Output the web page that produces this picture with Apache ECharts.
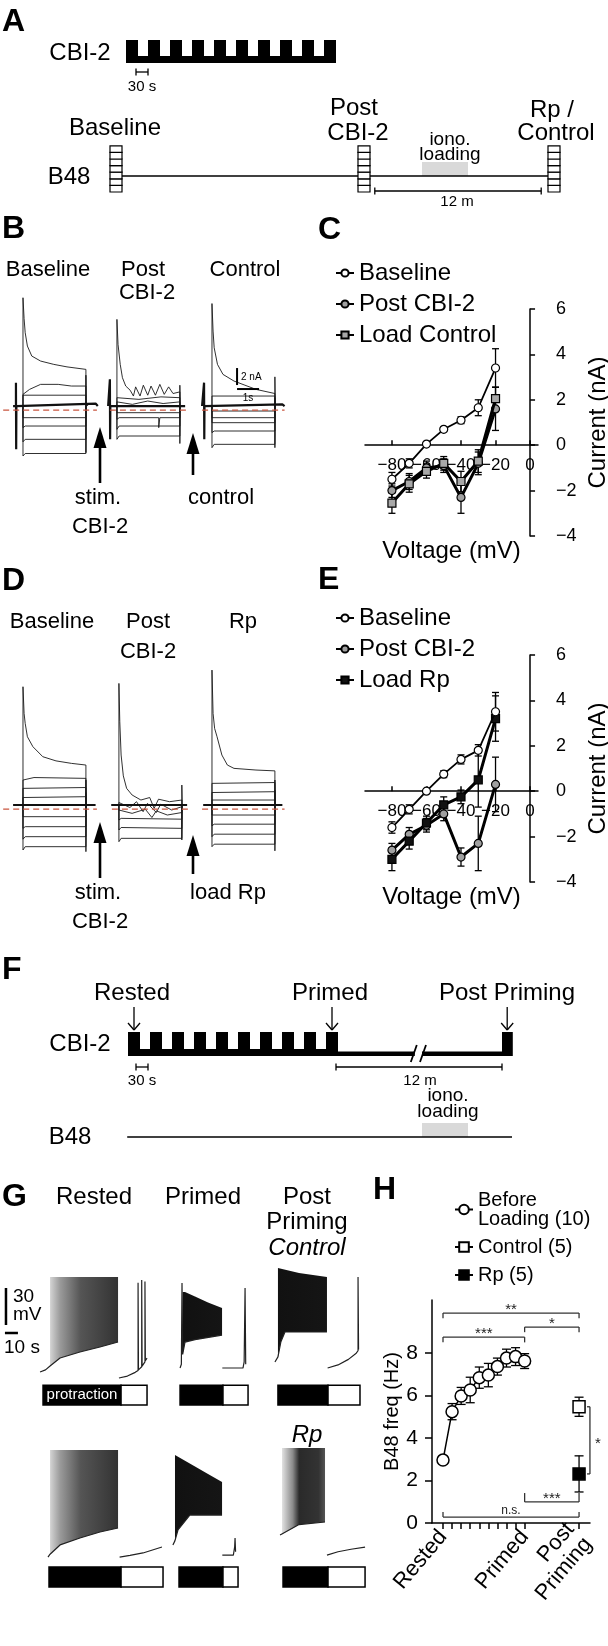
<!DOCTYPE html>
<html>
<head>
<meta charset="utf-8">
<title>CBI-2 priming and B48</title>
<script src="https://cdn.jsdelivr.net/npm/echarts@6/dist/echarts.min.js"></script>
<style>
  html, body { margin: 0; padding: 0; background: #fff; }
  #chart { width: 608px; height: 1646px; }
</style>
</head>
<body>
<div id="chart"></div>
<script>
const FONT = '"Liberation Sans", Arial, Helvetica, sans-serif';

// ---- A / F protocol diagrams (time in s) ----
const cbiPulses = [[0, 30], [55, 85], [110, 140], [165, 195], [220, 250], [275, 305], [330, 360], [385, 415], [440, 470], [495, 525]];
const aB48Samples = [-25, 595, 1070];
const aIonoLoading = [740, 855];
const aB48Line = [-15, 1060];
const aTimeBars = [[25, 55], [622, 1038]];
const fLastPulse = [935, 962];
const fBreak = [707, 745];
const fArrowTimes = [15, 510, 948];
const fIonoLoading = [735, 850];
const fB48Line = [-2, 960];
const fTimeBars = [[20, 50], [520, 935]];

// ---- B / D current traces: [s from step onset, nA from holding] ----
const bOnsets = [0, 4.27, 8.59];
const bBaselineTraces = [
  [[0, 0], [0, 13.0], [0.05, 10.5], [0.1, 8.8], [0.2, 7.2], [0.4, 6.0], [0.8, 5.4], [1.4, 5.0], [2.0, 4.7], [2.86, 4.4], [2.86, -5.6], [2.88, 0.3], [2.95, 0]],
  [[0, 0], [0, 1.4], [0.3, 2.0], [0.8, 2.6], [1.6, 2.6], [2.2, 2.4], [2.86, 2.4], [2.86, 0]],
  [[0, 0], [0, 1.3], [2.86, 1.3], [2.86, 0]],
  [[0, 0], [0, -1.4], [2.86, -1.4], [2.86, 0]],
  [[0, 0], [0, -2.6], [0.1, -2.4], [2.86, -2.4], [2.86, 0]],
  [[0, 0], [0, -4.3], [0.1, -4.0], [2.86, -4.0], [2.86, 0]],
  [[0, 0], [0, -6.0], [0.1, -5.7], [2.86, -5.7], [2.86, 3.7], [2.88, 0]]
];
const bPostTraces = [
  [[0, 0], [0, 10.4], [0.05, 7.4], [0.15, 5.0], [0.25, 3.4], [0.4, 2.4], [0.6, 1.9], [0.75, 1.2], [0.85, 2.3], [1.05, 1.2], [1.2, 2.5], [1.4, 1.3], [1.55, 2.4], [1.75, 1.3], [1.95, 2.6], [2.15, 1.4], [2.35, 2.3], [2.55, 1.5], [2.86, 1.7], [2.86, -4.5], [2.88, 0]],
  [[0, 0], [0, 1.0], [1.0, 0.8], [2.0, 1.1], [2.86, 1.0], [2.86, 0]],
  [[0, 0], [0, 0.5], [0.7, 0.2], [1.4, 0.6], [2.1, 0.3], [2.86, 0.5], [2.86, 0]],
  [[0, 0], [0, -0.8], [2.86, -0.8], [2.86, 0]],
  [[0, 0], [0, -1.6], [0.1, -1.4], [1.9, -1.4], [1.9, -2.6], [1.95, -1.4], [2.86, -1.4], [2.86, 0]],
  [[0, 0], [0, -2.8], [0.1, -2.4], [2.86, -2.4], [2.86, 0]],
  [[0, 0], [0, -4.0], [0.1, -3.6], [2.86, -3.6], [2.86, 2.5], [2.88, 0]]
];
const bControlTraces = [
  [[0, 0], [0, 12.3], [0.05, 9.0], [0.1, 7.0], [0.25, 5.0], [0.5, 3.8], [1.0, 3.0], [1.5, 2.5], [2.0, 2.0], [2.86, 1.5], [2.86, -5.0], [2.88, 0]],
  [[0, 0], [0, 1.2], [2.86, 1.2], [2.86, 0]],
  [[0, 0], [0, -0.6], [2.86, -0.6], [2.86, 0]],
  [[0, 0], [0, -1.4], [2.86, -1.4], [2.86, 0]],
  [[0, 0], [0, -2.0], [2.86, -2.0], [2.86, 0]],
  [[0, 0], [0, -3.2], [0.1, -3.0], [2.86, -3.0], [2.86, 1.0], [2.88, 0]],
  [[0, 0], [0, -5.0], [0.1, -4.6], [2.86, -4.6], [2.86, 3.5], [2.88, 0]]
];
const bHolds = [
  [[-0.45, 0], [-0.32, 0], [-0.32, 2.8], [-0.31, -5.2], [-0.3, 0], [3.3, 0.3], [3.4, 0]],
  [[-0.4, 0], [-0.32, 0], [-0.32, 3.2], [-0.31, -4.0], [-0.3, 0], [3.1, 0]],
  [[-0.45, 0], [-0.36, 0], [-0.36, 2.8], [-0.35, -4.0], [-0.34, 0], [3.2, 0.2], [3.3, 0]]
];
const bRedDash = [[-0.9, 3.36], [-0.32, 3.2], [-0.45, 3.3]];
const bScale = { nA: [4.56, 2.52], s: [9.73, 10.73], at: 9.73, sy: 2.04 };

const dOnsets = [0, 4.36, 8.59];
const dBaselineTraces = [
  [[0, 0], [0, 14.2], [0.05, 11.0], [0.1, 9.8], [0.2, 8.2], [0.45, 7.0], [0.9, 5.8], [1.5, 5.3], [2.2, 5.0], [2.86, 4.8], [2.86, -5.6], [2.88, 0]],
  [[0, 0], [0, 3.0], [0.5, 3.3], [2.86, 3.2], [2.86, 0]],
  [[0, 0], [0, 2.0], [2.86, 2.1], [2.86, 0]],
  [[0, 0], [0, 0.9], [2.86, 1.0], [2.86, 0]],
  [[0, 0], [0, -1.4], [2.86, -1.4], [2.86, 0]],
  [[0, 0], [0, -2.8], [0.1, -2.6], [2.86, -2.6], [2.86, 0]],
  [[0, 0], [0, -4.1], [0.1, -3.8], [2.86, -3.8], [2.86, 1.5], [2.88, 0]],
  [[0, 0], [0, -5.4], [0.1, -5.0], [2.86, -5.0], [2.86, 3.0], [2.88, 0]]
];
const dPostTraces = [
  [[0, 0], [0, 14.6], [0.04, 10.0], [0.1, 6.0], [0.2, 3.5], [0.35, 2.0], [0.6, 1.2], [1.0, 0.6], [1.4, 0.9], [1.6, -0.4], [1.8, 0.7], [2.3, 0.4], [2.86, 0.6], [2.86, -4.2], [2.88, 0]],
  [[0, 0], [0, 0.3], [0.5, -0.3], [0.8, 0.4], [1.1, -0.8], [1.3, 0.2], [1.7, -0.9], [1.9, 0.1], [2.4, -0.6], [2.86, -0.2], [2.86, 0]],
  [[0, 0], [0, -0.6], [0.6, -1.0], [1.2, -0.5], [1.5, -1.5], [1.7, -0.7], [2.2, -1.2], [2.86, -0.9], [2.86, 0]],
  [[0, 0], [0, -1.8], [0.1, -1.6], [2.86, -1.7], [2.86, 0]],
  [[0, 0], [0, -3.0], [0.1, -2.7], [2.86, -2.8], [2.86, 0]],
  [[0, 0], [0, -4.4], [0.1, -4.0], [2.86, -4.0], [2.86, 2.4], [2.88, 0]]
];
const dRpTraces = [
  [[0, 0], [0, 16.2], [0.05, 11.0], [0.12, 9.2], [0.23, 8.2], [0.45, 6.0], [0.7, 4.8], [1.0, 4.4], [2.0, 4.2], [2.86, 4.1], [2.86, -5.5], [2.88, 0]],
  [[0, 0], [0, 2.6], [2.86, 2.7], [2.86, 0]],
  [[0, 0], [0, 1.5], [2.86, 1.6], [2.86, 0]],
  [[0, 0], [0, 0.6], [2.86, 0.6], [2.86, 0]],
  [[0, 0], [0, -1.2], [2.86, -1.2], [2.86, 0]],
  [[0, 0], [0, -2.5], [0.1, -2.3], [2.86, -2.3], [2.86, 0]],
  [[0, 0], [0, -3.8], [0.1, -3.5], [2.86, -3.5], [2.86, 1.8], [2.88, 0]],
  [[0, 0], [0, -5.0], [0.1, -4.7], [2.86, -4.7], [2.86, 3.0], [2.88, 0]]
];
const dHolds = [[[-0.45, 0], [3.3, 0]], [[-0.35, 0], [3.1, 0]], [[-0.4, 0], [3.2, 0]]];
const dRedDash = [[-0.9, 3.36], [-0.32, 3.2], [-0.45, 3.3]];

// ---- C / E: I-V curves ----
const stepVoltages = [-80, -70, -60, -50, -40, -30, -20];
const cBaseline = [-1.5, -0.8, 0.05, 0.7, 1.1, 1.65, 3.4];
const cBaselineSem = [0.3, 0.2, 0.1, 0.1, 0.15, 0.35, 0.85];
const cPostCbi = [-2.0, -1.6, -1.0, -0.9, -2.3, -0.8, 1.6];
const cPostCbiSem = [0.3, 0.35, 0.3, 0.3, 0.7, 0.5, 0.95];
const cLoadControl = [-2.55, -1.7, -1.15, -0.8, -1.6, -0.7, 2.05];
const cLoadControlSem = [0.45, 0.37, 0.3, 0.3, 0.45, 0.5, 0.5];
const eBaseline = [-1.6, -0.8, 0.0, 0.75, 1.4, 1.8, 3.5];
const eBaselineSem = [0.25, 0.2, 0.1, 0.15, 0.2, 0.25, 0.85];
const ePostCbi = [-2.6, -1.9, -1.5, -1.0, -2.9, -2.3, 0.3];
const ePostCbiSem = [0.3, 0.3, 0.3, 0.3, 0.4, 1.2, 1.2];
const eLoadRp = [-3.0, -2.2, -1.4, -0.6, -0.25, 0.5, 3.2];
const eLoadRpSem = [0.5, 0.35, 0.3, 0.35, 0.3, 1.2, 1.0];
const ivTicksX = [-80, -60, -40, -20, 0];
const ivTicksY = [-4, -2, 0, 2, 4, 6];

// ---- G: B48 voltage (s, mV) ----
const g1RestedPre = [[30.8, -64.2], [35, -62.5], [38.5, -59.4]];
const g1RestedUpper = [[38.5, 12.7], [90.8, 12.7]];
const g1RestedLower = [[38.5, -59.4], [46.2, -52.9], [61.5, -48.0], [76.9, -44.0], [90.8, -39.9]];
const g1RestedPost = [[91.5, -69.1], [98, -67.5], [104, -64.5], [106.2, -63], [106.2, 8], [106.5, -62.5], [109, -60], [109, 10.3], [109.3, -59.5], [111.5, -56], [111.5, 9], [111.8, -55], [113.1, -53]];
const g1PrimedPre = [[138.5, -61.0], [139.5, -58], [140, 7.9], [140.5, -50]];
const g1PrimedUpper = [[140.5, 0.6], [142.3, 0.6], [150, -3], [160, -8], [170.8, -12.4]];
const g1PrimedLower = [[140.5, -50], [142.3, -40], [150, -38], [170.8, -34.3]];
const g1PrimedPost = [[171, -61], [186.9, -61], [187.8, -56], [188.5, 3.8], [189, -58]];
const g1ControlPre = [[211.5, -56.1], [213.8, -52]];
const g1ControlUpper = [[213.8, 20], [230, 16], [251.5, 12.7]];
const g1ControlLower = [[213.8, -52], [216, -40], [219.2, -31.8], [251.5, -31.8]];
const g1ControlPost = [[252, -61], [260, -58.5], [268, -54], [274, -49], [275.4, -47], [275.4, 12.7], [275.8, -46]];
const g2RestedPre = [[36.9, -68.3], [38.5, -66]];
const g2RestedUpper = [[38.5, 18.4], [90.8, 18.4]];
const g2RestedLower = [[38.5, -66], [46.2, -58.5], [61.5, -52.9], [76.9, -48.0], [90.8, -44.8]];
const g2RestedPost = [[92, -68.3], [100, -67], [110, -65], [124.6, -60.2]];
const g2PrimedPre = [[133, -58.5], [134.6, -55]];
const g2PrimedUpper = [[134.6, 14.4], [150, 5], [160, -1], [170.8, -7.5]];
const g2PrimedLower = [[134.6, -55], [136.9, -46.4], [146, -34.3], [170.8, -34.3]];
const g2PrimedPost = [[171, -66.7], [179.5, -66.7], [180.5, -60], [180.8, -52.9], [181.2, -64]];
const g2RpPre = [[215.4, -50.5], [216.9, -50]];
const g2RpUpper = [[216.9, 20], [250, 20]];
const g2RpLower = [[216.9, -50], [230, -42], [250, -39.9]];
const g2RpPost = [[251.5, -66.7], [260, -64], [270, -62], [280.8, -60.2]];
const g1Bars = [[33.1, 93.1, 113.1], [138.5, 171.5, 190.8], [213.8, 252.3, 276.9]];
const g2Bars = [[37.7, 93.1, 125.4], [137.7, 171.5, 183.1], [217.7, 252.3, 280.8]];

// ---- H: B48 frequency ----
const hCycle = [0, 1, 2, 3, 4, 5, 6, 7, 8, 9];
const hBeforeLoading = [2.96, 5.24, 5.98, 6.26, 6.84, 6.96, 7.36, 7.76, 7.83, 7.62];
const hBeforeLoadingSem = [0.12, 0.38, 0.4, 0.6, 0.5, 0.55, 0.4, 0.42, 0.42, 0.35];
const hPostCycle = [15];
const hControl = [5.47];
const hControlSem = [0.45];
const hRp = [2.31];
const hRpSem = [0.85];
const hTickNames = { 0: 'Rested', 9: 'Primed', 15: 'Post\nPriming' };
// [from, to, y, tick end y, label]
const hBrackets = [
  [0, 15, 9.88, 9.64, '**'],
  [9, 15, 9.22, 8.98, '*'],
  [0, 9, 8.75, 8.5, '***'],
  [9, 15, 0.99, 1.41, '***'],
  [0, 15, 0.28, 0.52, 'n.s.']
];
const hSideBracket = [16.2, 5.47, 2.31, 15.88, '*'];

const chart = echarts.init(document.getElementById('chart'));

function minus(v) { return v < 0 ? '\u2212' + Math.abs(v) : String(v); }

function hidden(grid, min, max) {
  return { gridIndex: grid, type: 'value', min: min, max: max, show: false };
}

function lineSeries(grid, pts, width, color, extra) {
  return Object.assign({
    type: 'line', xAxisIndex: grid, yAxisIndex: grid, data: pts, symbol: 'none',
    silent: true, z: 2, lineStyle: { color: color || '#000', width: width }
  }, extra || {});
}

function rectSeries(grid, rects, style, z) {
  return {
    type: 'custom', xAxisIndex: grid, yAxisIndex: grid, silent: true, z: z || 2, data: rects,
    renderItem: function (params, api) {
      const p0 = api.coord([api.value(0), api.value(3)]);
      const p1 = api.coord([api.value(1), api.value(2)]);
      return { type: 'rect', shape: { x: p0[0], y: p0[1], width: p1[0] - p0[0], height: p1[1] - p0[1] }, style: style };
    }
  };
}

function segSeries(grid, segs, width, z, color) {
  return {
    type: 'custom', xAxisIndex: grid, yAxisIndex: grid, silent: true, z: z || 3, data: segs,
    renderItem: function (params, api) {
      const a = api.coord([api.value(0), api.value(1)]);
      const b = api.coord([api.value(2), api.value(3)]);
      return { type: 'line', shape: { x1: a[0], y1: a[1], x2: b[0], y2: b[1] }, style: { stroke: color || '#000', lineWidth: width } };
    }
  };
}

// horizontal time span with end ticks: [x0, x1, y]
function spanSeries(grid, spans, tickPx, width) {
  return {
    type: 'custom', xAxisIndex: grid, yAxisIndex: grid, silent: true, z: 3, data: spans,
    renderItem: function (params, api) {
      const a = api.coord([api.value(0), api.value(2)]);
      const b = api.coord([api.value(1), api.value(2)]);
      const st = { stroke: '#000', lineWidth: width };
      return {
        type: 'group', children: [
          { type: 'line', shape: { x1: a[0], y1: a[1], x2: b[0], y2: b[1] }, style: st },
          { type: 'line', shape: { x1: a[0], y1: a[1] - tickPx, x2: a[0], y2: a[1] + tickPx }, style: st },
          { type: 'line', shape: { x1: b[0], y1: b[1] - tickPx, x2: b[0], y2: b[1] + tickPx }, style: st }
        ]
      };
    }
  };
}

function errorSeries(grid, xs, means, sems, cap, z) {
  return {
    type: 'custom', xAxisIndex: grid, yAxisIndex: grid, silent: true, z: z || 3,
    data: xs.map(function (x, i) { return [x, means[i] - sems[i], means[i] + sems[i]]; }),
    renderItem: function (params, api) {
      const lo = api.coord([api.value(0), api.value(1)]);
      const hi = api.coord([api.value(0), api.value(2)]);
      const st = { stroke: '#000', lineWidth: 1.3 };
      return {
        type: 'group', children: [
          { type: 'line', shape: { x1: lo[0], y1: lo[1], x2: hi[0], y2: hi[1] }, style: st },
          { type: 'line', shape: { x1: lo[0] - cap, y1: lo[1], x2: lo[0] + cap, y2: lo[1] }, style: st },
          { type: 'line', shape: { x1: hi[0] - cap, y1: hi[1], x2: hi[0] + cap, y2: hi[1] }, style: st }
        ]
      };
    }
  };
}

function burstSeries(grid, upper, lower, stops) {
  const pts = upper.concat(lower.slice().reverse());
  return {
    type: 'custom', xAxisIndex: grid, yAxisIndex: grid, silent: true, z: 2, data: [[pts[0][0], pts[0][1]]],
    renderItem: function (params, api) {
      return {
        type: 'polygon', shape: { points: pts.map(function (p) { return api.coord(p); }) },
        style: { fill: new echarts.graphic.LinearGradient(0, 0, 1, 0, stops.map(function (s) { return { offset: s[0], color: s[1] }; })) }
      };
    }
  };
}

function ivSeries(grid, name, values, symbol, fill, width, z) {
  return {
    type: 'line', name: name, xAxisIndex: grid, yAxisIndex: grid,
    data: stepVoltages.map(function (v, i) { return [v, values[i]]; }),
    symbol: symbol, symbolSize: 8, showSymbol: true, z: z,
    itemStyle: { color: fill, borderColor: '#000', borderWidth: 1.2 },
    lineStyle: { color: '#000', width: width }
  };
}

// with onZero the line sits at 0 but labels and name keep to the grid edge,
// so the margins below are measured from the grid's bottom / right edge
function ivXAxis(grid) {
  return {
    gridIndex: grid, type: 'value', min: -95.6, max: 4.6,
    axisLine: { onZero: true, lineStyle: { color: '#000', width: 1.5 } },
    axisTick: { inside: true, length: 5, customValues: ivTicksX, lineStyle: { color: '#000', width: 1.5 } },
    axisLabel: { customValues: ivTicksX, formatter: minus, fontSize: 17, fontFamily: FONT, color: '#000', margin: -79 },
    splitLine: { show: false },
    name: 'Voltage (mV)', nameLocation: 'middle', nameGap: 3,
    nameTextStyle: { fontSize: 24, fontFamily: FONT, color: '#000' }
  };
}
function ivYAxis(grid) {
  return {
    gridIndex: grid, type: 'value', position: 'right', min: -4, max: 6,
    axisLine: { onZero: true, lineStyle: { color: '#000', width: 1.5 } },
    axisTick: { length: 5, customValues: ivTicksY, lineStyle: { color: '#000', width: 1.5 } },
    axisLabel: { customValues: ivTicksY, formatter: minus, fontSize: 18, fontFamily: FONT, color: '#000', margin: 18 },
    splitLine: { show: false },
    name: 'Current (nA)', nameLocation: 'middle', nameGap: 48, nameRotate: 90,
    nameTextStyle: { fontSize: 24, fontFamily: FONT, color: '#000' }
  };
}

function txt(x, y, text, size, o) {
  o = o || {};
  const al = o.align || 'center';
  return {
    type: 'text', x: x, y: y, silent: true, z: 100,
    style: {
      text: text, fontSize: size, fontFamily: FONT,
      fontWeight: o.bold ? 'bold' : 'normal', fontStyle: o.italic ? 'italic' : 'normal',
      fill: o.fill || '#000', align: al, verticalAlign: 'middle', textAlign: al, textVerticalAlign: 'middle'
    }
  };
}
function bigArrow(x, tip, tail) {
  return {
    type: 'group', silent: true, z: 100, children: [
      { type: 'polygon', shape: { points: [[x, tip], [x - 6.5, tip + 21], [x + 6.5, tip + 21]] }, style: { fill: '#000' } },
      { type: 'rect', shape: { x: x - 1.3, y: tip + 19, width: 2.6, height: tail - tip - 19 }, style: { fill: '#000' } }
    ]
  };
}

const series = [];

// ----- A -----
series.push(rectSeries(0, [[cbiPulses[0][0], cbiPulses[cbiPulses.length - 1][1], 137, 144]], { fill: '#000' }));
series.push(rectSeries(0, cbiPulses.map(function (p) { return [p[0], p[1], 137, 160]; }), { fill: '#000' }));
series.push(rectSeries(0, [[aIonoLoading[0], aIonoLoading[1], 24, 38]], { fill: '#d9d9d9' }, 1));
series.push(lineSeries(0, [[aB48Line[0], 24], [aB48Line[1], 24]], 1.5));
const aBoxes = [];
aB48Samples.forEach(function (s) {
  for (let k = 0; k < 7; k++) aBoxes.push([s - 15, s + 15, 8 + k * 6.6, 8 + (k + 1) * 6.6]);
});
series.push(rectSeries(0, aBoxes, { fill: '#fff', stroke: '#000', lineWidth: 1.2 }, 4));
series.push(spanSeries(0, [[aTimeBars[0][0], aTimeBars[0][1], 128], [aTimeBars[1][0], aTimeBars[1][1], 9]], 3.5, 1.3));

// ----- B and D traces -----
function addTraces(grid, onsets, groups, holds, reds) {
  groups.forEach(function (traces, g) {
    traces.forEach(function (tr) {
      series.push(lineSeries(grid, tr.map(function (p) { return [p[0] + onsets[g], p[1]]; }), 0.9, '#1a1a1a'));
    });
    series.push(lineSeries(grid, holds[g].map(function (p) { return [p[0] + onsets[g], p[1]]; }), 2.2, '#111'));
    series.push(lineSeries(grid, [[reds[g][0] + onsets[g], -0.5], [reds[g][1] + onsets[g], -0.5]], 1.2, '#c9553f',
      { lineStyle: { color: '#c9553f', width: 1.2, type: [6, 4] }, z: 3 }));
  });
}
addTraces(1, bOnsets, [bBaselineTraces, bPostTraces, bControlTraces], bHolds, bRedDash);
addTraces(3, dOnsets, [dBaselineTraces, dPostTraces, dRpTraces], dHolds, dRedDash);
series.push(lineSeries(1, [[bScale.at, bScale.nA[0]], [bScale.at, bScale.nA[1]]], 2));
series.push(lineSeries(1, [[bScale.s[0], bScale.sy], [bScale.s[1], bScale.sy]], 2));

// ----- C -----
series.push(errorSeries(2, stepVoltages, cPostCbi, cPostCbiSem, 3.5, 3));
series.push(errorSeries(2, stepVoltages, cLoadControl, cLoadControlSem, 3.5, 3));
series.push(errorSeries(2, stepVoltages, cBaseline, cBaselineSem, 3.5, 3));
series.push(ivSeries(2, 'Post CBI-2', cPostCbi, 'circle', '#a0a0a0', 3, 4));
series.push(ivSeries(2, 'Load Control', cLoadControl, 'rect', '#a8a8a8', 3, 5));
series.push(ivSeries(2, 'Baseline', cBaseline, 'circle', '#fff', 1.8, 6));

// ----- E -----
series.push(errorSeries(4, stepVoltages, ePostCbi, ePostCbiSem, 3.5, 3));
series.push(errorSeries(4, stepVoltages, eLoadRp, eLoadRpSem, 3.5, 3));
series.push(errorSeries(4, stepVoltages, eBaseline, eBaselineSem, 3.5, 3));
series.push(ivSeries(4, 'Post CBI-2', ePostCbi, 'circle', '#a0a0a0', 3, 4));
series.push(ivSeries(4, 'Load Rp', eLoadRp, 'rect', '#111', 3, 5));
series.push(ivSeries(4, 'Baseline', eBaseline, 'circle', '#fff', 1.8, 6));

// ----- F -----
series.push(rectSeries(5, [[cbiPulses[0][0], cbiPulses[cbiPulses.length - 1][1], 89, 96]], { fill: '#000' }));
series.push(rectSeries(5, cbiPulses.map(function (p) { return [p[0], p[1], 89, 113]; }), { fill: '#000' }));
series.push(rectSeries(5, [[cbiPulses[cbiPulses.length - 1][1], fLastPulse[0], 89, 93.5], [fLastPulse[0], fLastPulse[1], 89, 113]], { fill: '#000' }));
series.push(rectSeries(5, [[fBreak[0] + 10, fBreak[1] - 10, 85, 98]], { fill: '#fff' }, 4));
series.push(segSeries(5, [[fBreak[0], 83, fBreak[0] + 15, 100], [fBreak[1] - 15, 83, fBreak[1], 100]], 1.8, 5));
const fArrowSegs = [];
fArrowTimes.forEach(function (t) {
  fArrowSegs.push([t, 138, t, 115], [t - 15, 122, t, 115], [t + 15, 122, t, 115]);
});
series.push(segSeries(5, fArrowSegs, 1.3, 5));
series.push(spanSeries(5, [[fTimeBars[0][0], fTimeBars[0][1], 78], [fTimeBars[1][0], fTimeBars[1][1], 78]], 3.5, 1.3));
series.push(rectSeries(5, [[fIonoLoading[0], fIonoLoading[1], 8, 22]], { fill: '#d9d9d9' }, 1));
series.push(lineSeries(5, [[fB48Line[0], 8], [fB48Line[1], 8]], 1.5));

// ----- G -----
const restedStops = [[0, '#d4d4d4'], [0.15, '#9a9a9a'], [0.45, '#555'], [1, '#333']];
const darkStops = [[0, '#111'], [1, '#151515']];
const rpStops = [[0, '#e2e2e2'], [0.25, '#8a8a8a'], [0.4, '#2a2a2a'], [0.85, '#333'], [1, '#555']];
series.push(burstSeries(6, g1RestedUpper, g1RestedLower, restedStops));
series.push(burstSeries(6, g1PrimedUpper, g1PrimedLower, darkStops));
series.push(burstSeries(6, g1ControlUpper, g1ControlLower, darkStops));
series.push(burstSeries(7, g2RestedUpper, g2RestedLower, restedStops));
series.push(burstSeries(7, g2PrimedUpper, g2PrimedLower, darkStops));
series.push(burstSeries(7, g2RpUpper, g2RpLower, rpStops));
[[6, g1RestedPre, g1RestedLower, g1RestedPost], [6, g1PrimedPre, g1PrimedLower, g1PrimedPost], [6, g1ControlPre, g1ControlLower, g1ControlPost],
 [7, g2RestedPre, g2RestedLower, g2RestedPost], [7, g2PrimedPre, g2PrimedLower, g2PrimedPost], [7, g2RpPre, g2RpLower, g2RpPost]].forEach(function (r) {
  series.push(lineSeries(r[0], r[1].concat(r[2]), 1.2, '#222'));
  series.push(lineSeries(r[0], r[3], 1.2, '#222'));
});
series.push(rectSeries(6, g1Bars.map(function (b) { return [b[0], b[1], -91, -75]; }), { fill: '#000', stroke: '#000', lineWidth: 1.5 }));
series.push(rectSeries(6, g1Bars.map(function (b) { return [b[1], b[2], -91, -75]; }), { fill: '#fff', stroke: '#000', lineWidth: 1.5 }));
series.push(rectSeries(7, g2Bars.map(function (b) { return [b[0], b[1], -92.6, -76.4]; }), { fill: '#000', stroke: '#000', lineWidth: 1.5 }));
series.push(rectSeries(7, g2Bars.map(function (b) { return [b[1], b[2], -92.6, -76.4]; }), { fill: '#fff', stroke: '#000', lineWidth: 1.5 }));
series.push(lineSeries(6, [[4.6, 3.8], [4.6, -26.2]], 2.5));
series.push(lineSeries(6, [[3.8, -32.6], [13.8, -32.6]], 2.5));

// ----- H -----
series.push(errorSeries(8, hCycle, hBeforeLoading, hBeforeLoadingSem, 4.5, 3));
series.push(errorSeries(8, hPostCycle, hControl, hControlSem, 4.5, 3));
series.push(errorSeries(8, hPostCycle, hRp, hRpSem, 4.5, 3));
series.push({
  type: 'line', name: 'Before\nLoading (10)', xAxisIndex: 8, yAxisIndex: 8,
  data: hCycle.map(function (c, i) { return [c, hBeforeLoading[i]]; }),
  symbol: 'circle', symbolSize: 12, showSymbol: true, z: 5,
  itemStyle: { color: '#fff', borderColor: '#000', borderWidth: 1.5 }, lineStyle: { color: '#000', width: 1.5 }
});
series.push({
  type: 'line', name: 'Control (5)', xAxisIndex: 8, yAxisIndex: 8,
  data: hPostCycle.map(function (c, i) { return [c, hControl[i]]; }),
  symbol: 'rect', symbolSize: 12, showSymbol: true, z: 5,
  itemStyle: { color: '#fff', borderColor: '#000', borderWidth: 1.5 }, lineStyle: { color: '#000', width: 1.5 }
});
series.push({
  type: 'line', name: 'Rp (5)', xAxisIndex: 8, yAxisIndex: 8,
  data: hPostCycle.map(function (c, i) { return [c, hRp[i]]; }),
  symbol: 'rect', symbolSize: 12, showSymbol: true, z: 5,
  itemStyle: { color: '#000', borderColor: '#000', borderWidth: 1.5 }, lineStyle: { color: '#000', width: 1.5 }
});
series.push({
  type: 'custom', xAxisIndex: 8, yAxisIndex: 8, silent: true, z: 3,
  data: hBrackets.map(function (b) { return [b[0], b[2]]; }),
  renderItem: function (params, api) {
    const b = hBrackets[params.dataIndex];
    const a = api.coord([b[0], b[2]]), c = api.coord([b[1], b[2]]);
    const ta = api.coord([b[0], b[3]]), tc = api.coord([b[1], b[3]]);
    const st = { stroke: '#333', lineWidth: 1.3 };
    const ns = b[4] === 'n.s.';
    return {
      type: 'group', children: [
        { type: 'line', shape: { x1: a[0], y1: a[1], x2: c[0], y2: c[1] }, style: st },
        { type: 'line', shape: { x1: a[0], y1: a[1], x2: ta[0], y2: ta[1] }, style: st },
        { type: 'line', shape: { x1: c[0], y1: c[1], x2: tc[0], y2: tc[1] }, style: st },
        { type: 'text', x: (a[0] + c[0]) / 2, y: a[1] + (ns ? 0 : 4), style: { text: b[4], fontSize: ns ? 12 : 15, fontFamily: FONT, fill: '#222', align: 'center', verticalAlign: 'bottom' } }
      ]
    };
  }
});
series.push({
  type: 'custom', xAxisIndex: 8, yAxisIndex: 8, silent: true, z: 3,
  data: [[hSideBracket[0], hSideBracket[1]]],
  renderItem: function (params, api) {
    const b = hSideBracket;
    const top = api.coord([b[0], b[1]]), bot = api.coord([b[0], b[2]]);
    const tt = api.coord([b[3], b[1]]), tb = api.coord([b[3], b[2]]);
    const st = { stroke: '#333', lineWidth: 1.3 };
    return {
      type: 'group', children: [
        { type: 'line', shape: { x1: top[0], y1: top[1], x2: bot[0], y2: bot[1] }, style: st },
        { type: 'line', shape: { x1: tt[0], y1: tt[1], x2: top[0], y2: top[1] }, style: st },
        { type: 'line', shape: { x1: tb[0], y1: tb[1], x2: bot[0], y2: bot[1] }, style: st },
        { type: 'text', x: top[0] + 8, y: (top[1] + bot[1]) / 2 + 4, style: { text: b[4], fontSize: 15, fontFamily: FONT, fill: '#222', align: 'center', verticalAlign: 'middle' } }
      ]
    };
  }
});

const grids = [
  { left: 0, top: 35, width: 608, height: 165 },
  { left: 0, top: 290, width: 300, height: 170 },
  { left: 365, top: 309, width: 173, height: 227 },
  { left: 0, top: 665, width: 300, height: 195 },
  { left: 365, top: 655, width: 173, height: 227 },
  { left: 0, top: 1000, width: 608, height: 145 },
  { left: 0, top: 1260, width: 370, height: 150 },
  { left: 0, top: 1440, width: 370, height: 150 },
  { left: 432, top: 1300, width: 158, height: 223 }
].map(function (g) { return Object.assign({ containLabel: false, outerBoundsMode: 'none' }, g); });

const xAxes = [
  hidden(0, -315, 1205),
  hidden(1, -1.045, 12.591),
  ivXAxis(2),
  hidden(3, -1.045, 12.591),
  ivXAxis(4),
  hidden(5, -320, 1200),
  hidden(6, 0, 284.6),
  hidden(7, 0, 284.6),
  {
    gridIndex: 8, type: 'value', min: -1.213, max: 16.207,
    axisLine: { onZero: false, lineStyle: { color: '#000', width: 1.5 } },
    axisTick: { customValues: [0, 1, 2, 3, 4, 5, 6, 7, 8, 9, 15], length: 6, lineStyle: { color: '#000', width: 1.5 } },
    axisLabel: { customValues: [0, 9, 15], formatter: function (v) { return hTickNames[v] || ''; }, rotate: 50, fontSize: 22, fontFamily: FONT, color: '#000', margin: 10, lineHeight: 23 },
    splitLine: { show: false }
  }
];
const yAxes = [
  hidden(0, 0, 165),
  hidden(1, -6.48, 13.93),
  ivYAxis(2),
  hidden(3, -6.6, 16.81),
  ivYAxis(4),
  hidden(5, 0, 145),
  hidden(6, -95, 26.5),
  hidden(7, -95, 26.5),
  {
    gridIndex: 8, type: 'value', min: 0, max: 10.494,
    axisLine: { onZero: false, lineStyle: { color: '#000', width: 1.5 } },
    axisTick: { customValues: [0, 2, 4, 6, 8], length: 7, lineStyle: { color: '#000', width: 1.5 } },
    axisLabel: { customValues: [0, 2, 4, 6, 8], fontSize: 21, fontFamily: FONT, color: '#000', margin: 14 },
    splitLine: { show: false },
    name: 'B48 freq (Hz)', nameLocation: 'middle', nameGap: 30,
    nameTextStyle: { fontSize: 20, fontFamily: FONT, color: '#000' }
  }
];

const legendText = { fontSize: 24, fontFamily: FONT, color: '#000', lineHeight: 26 };
const legends = [
  { data: ['Baseline', 'Post CBI-2', 'Load Control'], orient: 'vertical', left: 330, top: 255, itemWidth: 18, itemHeight: 9, itemGap: 5, textStyle: legendText, selectedMode: false },
  { data: ['Baseline', 'Post CBI-2', 'Load Rp'], orient: 'vertical', left: 330, top: 600, itemWidth: 18, itemHeight: 9, itemGap: 5, textStyle: legendText, selectedMode: false },
  { data: ['Before\nLoading (10)', 'Control (5)', 'Rp (5)'], orient: 'vertical', left: 449, top: 1185, itemWidth: 18, itemHeight: 12, itemGap: 8, textStyle: { fontSize: 20, fontFamily: FONT, color: '#000', lineHeight: 19 }, selectedMode: false }
];

const big = { bold: true, align: 'left' };
const labels = [
  // A
  txt(2, 22, 'A', 32, big),
  txt(80, 53, 'CBI-2', 24), txt(142, 87, '30 s', 15),
  txt(115, 128, 'Baseline', 24), txt(354, 108, 'Post', 24), txt(358, 133, 'CBI-2', 24),
  txt(450, 140, 'iono.', 19), txt(450, 155, 'loading', 19),
  txt(552, 110, 'Rp /', 24), txt(556, 133, 'Control', 24),
  txt(69, 177, 'B48', 24), txt(457, 202, '12 m', 15),
  // B
  txt(2, 229, 'B', 32, big),
  txt(48, 270, 'Baseline', 22), txt(143, 270, 'Post', 22), txt(147, 293, 'CBI-2', 22), txt(245, 270, 'Control', 22),
  txt(241, 377, '2 nA', 10, { align: 'left' }), txt(248, 398, '1s', 10),
  bigArrow(100, 427, 483), bigArrow(193, 433, 475),
  txt(98, 498, 'stim.', 22), txt(100, 527, 'CBI-2', 22), txt(221, 498, 'control', 22),
  // C, E
  txt(318, 230, 'C', 32, big), txt(318, 580, 'E', 32, big),
  // D
  txt(2, 581, 'D', 32, big),
  txt(52, 622, 'Baseline', 22), txt(148, 622, 'Post', 22), txt(148, 652, 'CBI-2', 22), txt(243, 622, 'Rp', 22),
  bigArrow(100, 822, 878), bigArrow(193, 835, 874),
  txt(98, 893, 'stim.', 22), txt(100, 922, 'CBI-2', 22), txt(228, 893, 'load Rp', 22),
  // F
  txt(2, 970, 'F', 32, big),
  txt(132, 993, 'Rested', 24), txt(330, 993, 'Primed', 24), txt(507, 993, 'Post Priming', 24),
  txt(80, 1044, 'CBI-2', 24), txt(142, 1081, '30 s', 15), txt(420, 1081, '12 m', 15),
  txt(448, 1096, 'iono.', 19), txt(448, 1112, 'loading', 19), txt(70, 1137, 'B48', 24),
  // G
  txt(2, 1197, 'G', 32, big),
  txt(94, 1197, 'Rested', 24), txt(203, 1197, 'Primed', 24),
  txt(307, 1197, 'Post', 24), txt(307, 1222, 'Priming', 24), txt(307, 1248, 'Control', 24, { italic: true }),
  txt(307, 1435, 'Rp', 24, { italic: true }),
  txt(13, 1297, '30', 19, { align: 'left' }), txt(13, 1315, 'mV', 19, { align: 'left' }), txt(4, 1348, '10 s', 19, { align: 'left' }),
  txt(82, 1395, 'protraction', 15, { fill: '#fff' }),
  // H
  txt(373, 1190, 'H', 32, big)
];

chart.setOption({
  animation: false,
  backgroundColor: '#fff',
  textStyle: { fontFamily: FONT },
  grid: grids,
  xAxis: xAxes,
  yAxis: yAxes,
  legend: legends,
  graphic: { elements: labels },
  series: series
});
</script>
</body>
</html>
